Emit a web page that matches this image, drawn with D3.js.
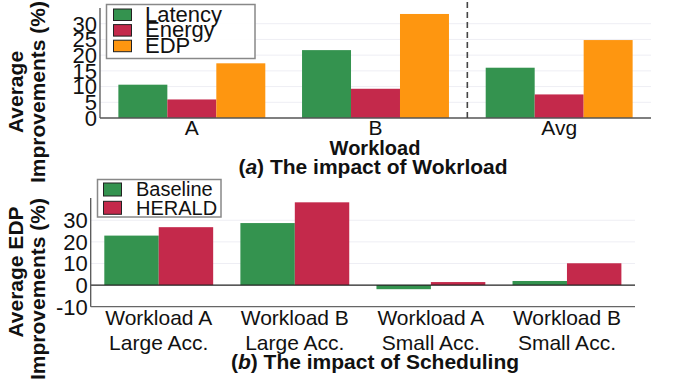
<!DOCTYPE html>
<html>
<head>
<meta charset="utf-8">
<script src="https://cdn.jsdelivr.net/npm/d3@7"></script>
<style>
  body { margin: 0; background: #fff; }
  text { font-family: "Liberation Sans", Arial, Helvetica, sans-serif; fill: #111; }
</style>
</head>
<body>
<div id="chart"></div>
<script>
// Two stacked grouped bar charts: (a) workload impact, (b) scheduling impact

// ---- data, top chart
const topCats = ["A", "B", "Avg"]
const topSeries = ["Latency", "Energy", "EDP"]
const latency = [10.6, 21.6, 16.0]
const energy = [5.9, 9.3, 7.5]
const edp = [17.4, 33.1, 24.8]
const topTicks = [0, 5, 10, 15, 20, 25, 30]

// ---- data, bottom chart
const botCats = ["Workload A|Large Acc.", "Workload B|Large Acc.", "Workload A|Small Acc.", "Workload B|Small Acc."]
const botSeries = ["Baseline", "HERALD"]
const baseline = [22.9, 28.7, -1.9, 1.9]
const herald = [26.8, 38.3, 1.4, 10.1]
const botTicks = [-10, 0, 10, 20, 30]

const COLORS = { Latency: "#34934f", Energy: "#c4294b", EDP: "#fe9610",
                 Baseline: "#34934f", HERALD: "#c4294b" }

const W = 676, H = 384
const FS = 21

const svg = d3.select("#chart").append("svg")
  .attr("width", W).attr("height", H)

// ================= TOP CHART =================
const boxA = { left: 100, right: 651, top: 8, bottom: 118 }
const topVals = { Latency: latency, Energy: energy, EDP: edp }

const xA = d3.scaleBand().domain(topCats).range([boxA.left, boxA.right])
  .paddingInner(0.2).paddingOuter(0.1)
const xAin = d3.scaleBand().domain(topSeries).range([0, xA.bandwidth()])
const yA = d3.scaleLinear().domain([0, 35]).range([boxA.bottom, boxA.top])

const gA = svg.append("g")

// grid
gA.selectAll(".grid").data(topTicks.filter(d => d > 0)).enter().append("line")
  .attr("x1", boxA.left).attr("x2", boxA.right)
  .attr("y1", d => yA(d)).attr("y2", d => yA(d))
  .attr("stroke", "#eeeef4").attr("stroke-width", 1)

// bars
topCats.forEach((c, i) => {
  gA.selectAll(null).data(topSeries).enter().append("rect")
    .attr("x", s => xA(c) + xAin(s))
    .attr("width", xAin.bandwidth())
    .attr("y", s => yA(topVals[s][i]))
    .attr("height", s => yA(0) - yA(topVals[s][i]))
    .attr("fill", s => COLORS[s])
})

// axes lines
gA.append("line").attr("x1", boxA.left).attr("x2", boxA.left)
  .attr("y1", boxA.top).attr("y2", boxA.bottom).attr("stroke", "#555").attr("stroke-width", 1.3)
gA.append("line").attr("x1", boxA.left).attr("x2", boxA.right)
  .attr("y1", boxA.bottom).attr("y2", boxA.bottom).attr("stroke", "#555").attr("stroke-width", 1.3)

// dashed divider between B and Avg
const divX = (xA("B") + xA.bandwidth() + xA("Avg")) / 2
gA.append("line").attr("x1", divX).attr("x2", divX)
  .attr("y1", 2).attr("y2", boxA.bottom)
  .attr("stroke", "#444").attr("stroke-width", 1.6).attr("stroke-dasharray", "6,4")

// y tick labels (they crowd each other in the original too)
gA.selectAll(".yt").data(topTicks).enter().append("text")
  .attr("x", boxA.left - 3).attr("y", d => yA(d)).attr("dy", "0.36em")
  .attr("text-anchor", "end").style("font-size", "22px")
  .text(d => d)

// x tick labels
gA.selectAll(".xt").data(topCats).enter().append("text")
  .attr("x", d => xA(d) + xA.bandwidth() / 2).attr("y", 135)
  .attr("text-anchor", "middle").style("font-size", FS + "px")
  .text(d => d)

// x label and caption
gA.append("text").attr("x", 375).attr("y", 155).attr("text-anchor", "middle")
  .style("font-size", "20px").style("font-weight", "bold").text("Workload")
const capA = gA.append("text").attr("x", 373).attr("y", 174).attr("text-anchor", "middle")
  .style("font-size", FS + "px").style("font-weight", "bold")
capA.append("tspan").text("(")
capA.append("tspan").style("font-style", "italic").text("a")
capA.append("tspan").text(") The impact of Wokrload")

// y label
gA.append("text").attr("transform", "translate(23,92) rotate(-90)")
  .attr("text-anchor", "middle").style("font-size", FS + "px").style("font-weight", "bold")
  .text("Average")
gA.append("text").attr("transform", "translate(45,92) rotate(-90)")
  .attr("text-anchor", "middle").style("font-size", FS + "px").style("font-weight", "bold")
  .text("Improvements (%)")

// legend
const legA = gA.append("g")
legA.append("rect").attr("x", 106.5).attr("y", 4.5).attr("width", 148.5).attr("height", 54)
  .attr("fill", "#fff").attr("fill-opacity", 0.9).attr("stroke", "#888").attr("stroke-width", 1.5)
topSeries.forEach((s, i) => {
  legA.append("rect").attr("x", 113.5).attr("y", 9 + i * 15.6).attr("width", 18).attr("height", 11.5)
    .attr("fill", COLORS[s]).attr("stroke", "#222").attr("stroke-width", 1)
  legA.append("text").attr("x", 145).attr("y", 21.5 + i * 15.6)
    .style("font-size", "22px").text(s)
})

// ================= BOTTOM CHART =================
const boxB = { left: 90.7, right: 635, top: 198, bottom: 306.7 }
const botVals = { Baseline: baseline, HERALD: herald }

const xB = d3.scaleBand().domain(botCats).range([boxB.left, boxB.right])
  .paddingInner(0.2).paddingOuter(0.1)
const xBin = d3.scaleBand().domain(botSeries).range([0, xB.bandwidth()])
const yB = d3.scaleLinear().domain([-10, 40.3]).range([boxB.bottom, boxB.top])

const gB = svg.append("g")

gB.selectAll(".grid").data(botTicks.filter(d => d > 0)).enter().append("line")
  .attr("x1", boxB.left).attr("x2", boxB.right)
  .attr("y1", d => yB(d)).attr("y2", d => yB(d))
  .attr("stroke", "#eeeef4").attr("stroke-width", 1)

botCats.forEach((c, i) => {
  gB.selectAll(null).data(botSeries).enter().append("rect")
    .attr("x", s => xB(c) + xBin(s))
    .attr("width", xBin.bandwidth())
    .attr("y", s => yB(Math.max(0, botVals[s][i])))
    .attr("height", s => Math.abs(yB(botVals[s][i]) - yB(0)))
    .attr("fill", s => COLORS[s])
})

// zero line
gB.append("line").attr("x1", boxB.left).attr("x2", boxB.right)
  .attr("y1", yB(0)).attr("y2", yB(0)).attr("stroke", "#222").attr("stroke-width", 1.3)
// axes
gB.append("line").attr("x1", boxB.left).attr("x2", boxB.left)
  .attr("y1", boxB.top).attr("y2", boxB.bottom).attr("stroke", "#555").attr("stroke-width", 1.3)
gB.append("line").attr("x1", boxB.left).attr("x2", boxB.right)
  .attr("y1", boxB.bottom).attr("y2", boxB.bottom).attr("stroke", "#666").attr("stroke-width", 1.3)

gB.selectAll(".yt").data(botTicks).enter().append("text")
  .attr("x", boxB.left - 3).attr("y", d => yB(d)).attr("dy", "0.36em")
  .attr("text-anchor", "end").style("font-size", "22px")
  .text(d => d)

const xt = gB.selectAll(".xt").data(botCats).enter().append("text")
  .attr("text-anchor", "middle").style("font-size", FS + "px")
xt.append("tspan").attr("x", d => xB(d) + xB.bandwidth() / 2).attr("y", 325)
  .text(d => d.split("|")[0])
xt.append("tspan").attr("x", d => xB(d) + xB.bandwidth() / 2).attr("y", 350)
  .text(d => d.split("|")[1])

const capB = gB.append("text").attr("x", 375).attr("y", 369).attr("text-anchor", "middle")
  .style("font-size", FS + "px").style("font-weight", "bold")
capB.append("tspan").text("(")
capB.append("tspan").style("font-style", "italic").text("b")
capB.append("tspan").text(") The impact of Scheduling")

gB.append("text").attr("transform", "translate(23,272) rotate(-90)")
  .attr("text-anchor", "middle").style("font-size", FS + "px").style("font-weight", "bold")
  .text("Average EDP")
gB.append("text").attr("transform", "translate(45,289) rotate(-90)")
  .attr("text-anchor", "middle").style("font-size", FS + "px").style("font-weight", "bold")
  .text("Improvements (%)")

const legB = gB.append("g")
legB.append("rect").attr("x", 97.5).attr("y", 179.5).attr("width", 123.5).attr("height", 37.5)
  .attr("fill", "#fff").attr("fill-opacity", 0.9).attr("stroke", "#888").attr("stroke-width", 1.5)
botSeries.forEach((s, i) => {
  legB.append("rect").attr("x", 103.5).attr("y", 183 + i * 18.3).attr("width", 18).attr("height", 13)
    .attr("fill", COLORS[s]).attr("stroke", "#222").attr("stroke-width", 1)
  legB.append("text").attr("x", 136).attr("y", 196 + i * 18.5)
    .style("font-size", "20px").text(s)
})
</script>
</body>
</html>
